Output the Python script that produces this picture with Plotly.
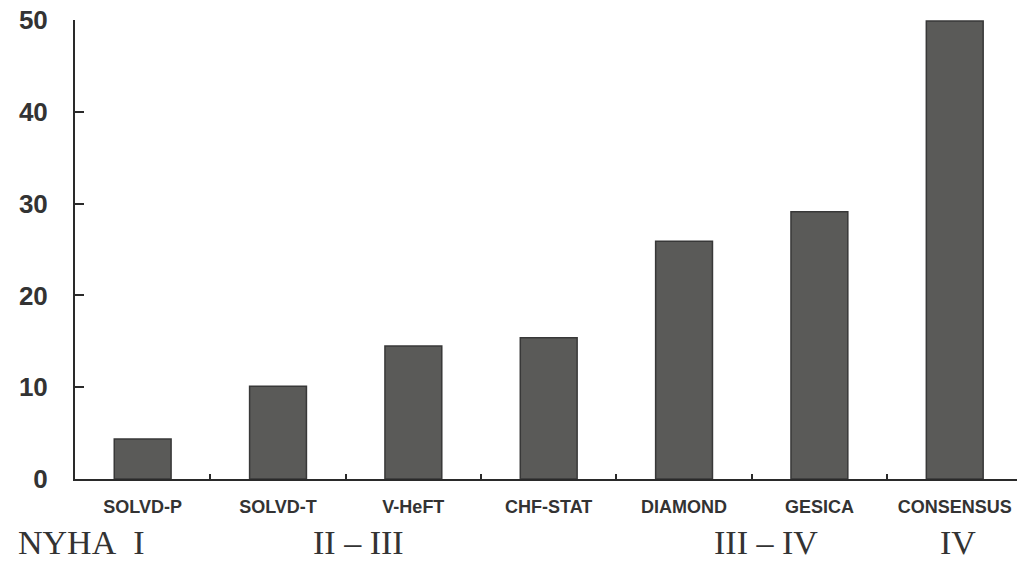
import plotly.graph_objects as go

trials = ["SOLVD-P", "SOLVD-T", "V-HeFT", "CHF-STAT", "DIAMOND", "GESICA", "CONSENSUS"]
values = [4.35, 10.1, 14.5, 15.4, 25.9, 29.1, 49.9]
y_ticks = [0, 10, 20, 30, 40, 50]
nyha_labels = ["NYHA\u2002I", "II \u2013 III", "III \u2013 IV", "IV"]
nyha_x_px = [81, 358, 766, 958]

W, H = 1017, 562
L, R, T, B = 75, 0, 20, 562 - 479

fig = go.Figure(go.Bar(
    x=trials, y=values, width=0.42,
    marker=dict(color="#5a5a58", line=dict(color="#383838", width=1.5)),
))

for txt, px in zip(nyha_labels, nyha_x_px):
    fig.add_annotation(
        text=txt, xref="paper", yref="paper",
        x=(px - L) / (W - L - R), y=-(561.5 - 479) / (479 - 20),
        xanchor="center", yanchor="bottom", showarrow=False, borderpad=0,
        font=dict(family="Liberation Serif", size=34, color="#333333"),
    )

fig.update_layout(
    width=W, height=H,
    margin=dict(l=L, r=R, t=T, b=B, autoexpand=False),
    plot_bgcolor="white", paper_bgcolor="white",
    showlegend=False,
    xaxis=dict(
        range=[-0.5, 6.46], showgrid=False, zeroline=False,
        showline=True, linecolor="#2a2a2a", linewidth=2,
        ticks="inside", tickson="boundaries", ticklen=5, tickwidth=2, tickcolor="#2a2a2a",
        tickfont=dict(family="Liberation Sans", size=18, color="#333333", weight="bold"),
        ticklabelstandoff=10,
    ),
    yaxis=dict(
        range=[0, 50], tickvals=y_ticks, showgrid=False, zeroline=False,
        showline=True, linecolor="#2a2a2a", linewidth=2,
        ticks="inside", ticklen=9, tickwidth=2, tickcolor="#2a2a2a",
        tickfont=dict(family="Liberation Sans", size=26, color="#333333", weight="bold"),
        ticklabelstandoff=20,
    ),
)

fig.write_html(
    "out.html",
    config={"displayModeBar": False},
    post_script="document.body.style.margin='0';document.body.style.overflow='hidden';",
)
